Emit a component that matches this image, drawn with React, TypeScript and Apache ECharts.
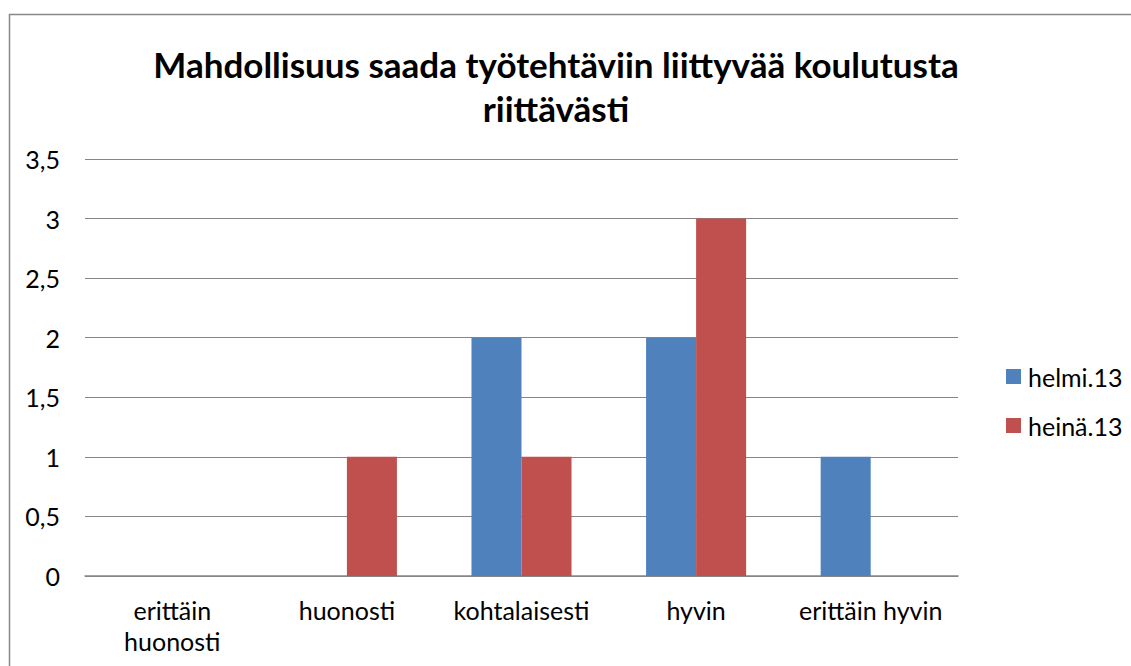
import React, { useEffect, useRef } from "react";
import * as echarts from "echarts";

const categories = ["erittäin\nhuonosti", "huonosti", "kohtalaisesti", "hyvin", "erittäin hyvin"];
const helmi = [0, 0, 2, 2, 1];
const heina = [0, 1, 1, 3, 0];
const seriesNames = ["helmi.13", "heinä.13"];
const titleText = "Mahdollisuus saada työtehtäviin liittyvää koulutusta\nriittävästi";

export default function App() {
  const ref = useRef<HTMLDivElement>(null);
  useEffect(() => {
    const chart = echarts.init(ref.current!, null, { renderer: "svg" });
    const font = "Lato, 'Open Sans', sans-serif";
    chart.setOption({
      animation: false,
      backgroundColor: "#fff",
      textStyle: { fontFamily: font },
      title: {
        text: titleText,
        left: 551,
        textAlign: "center",
        top: 37,
        textStyle: { fontFamily: font, fontSize: 35, fontWeight: "bold", color: "#000", lineHeight: 44 },
      },
      graphic: [
        {
          type: "rect",
          shape: { x: 9.5, y: 14.5, width: 1200, height: 700 },
          style: { fill: "none", stroke: "#888", lineWidth: 1.5 },
          silent: true,
        },
      ],
      legend: {
        orient: "vertical",
        left: 1001,
        top: 359,
        itemWidth: 15,
        itemHeight: 15,
        itemGap: 24,
        icon: "rect",
        textStyle: { fontFamily: font, fontSize: 25, color: "#000", lineHeight: 25, padding: [0, 0, 0, 2] },
        data: seriesNames,
      },
      grid: { left: 85, right: 173, top: 159, bottom: 90 },
      xAxis: {
        type: "category",
        data: categories,
        axisLine: { lineStyle: { color: "#868686", width: 1.5 } },
        axisTick: { show: false },
        axisLabel: { fontFamily: font, fontSize: 25, color: "#000", margin: 18, lineHeight: 31, interval: 0 },
      },
      yAxis: {
        type: "value",
        min: 0,
        max: 3.5,
        interval: 0.5,
        axisLine: { show: false },
        axisTick: { show: false },
        splitLine: { lineStyle: { color: "#868686", width: 1 } },
        axisLabel: {
          fontFamily: font,
          fontSize: 25,
          color: "#000",
          margin: 25,
          formatter: (v: number) => String(v).replace(".", ","),
        },
      },
      series: [
        { name: seriesNames[0], type: "bar", data: helmi, itemStyle: { color: "#4F81BD" }, barGap: "0%", barCategoryGap: "42.7%" },
        { name: seriesNames[1], type: "bar", data: heina, itemStyle: { color: "#C0504D" }, barGap: "0%", barCategoryGap: "42.7%" },
      ],
    });
    return () => chart.dispose();
  }, []);
  return <div ref={ref} style={{ position: "fixed", left: 0, top: 0, width: 1131, height: 666 }} />;
}
